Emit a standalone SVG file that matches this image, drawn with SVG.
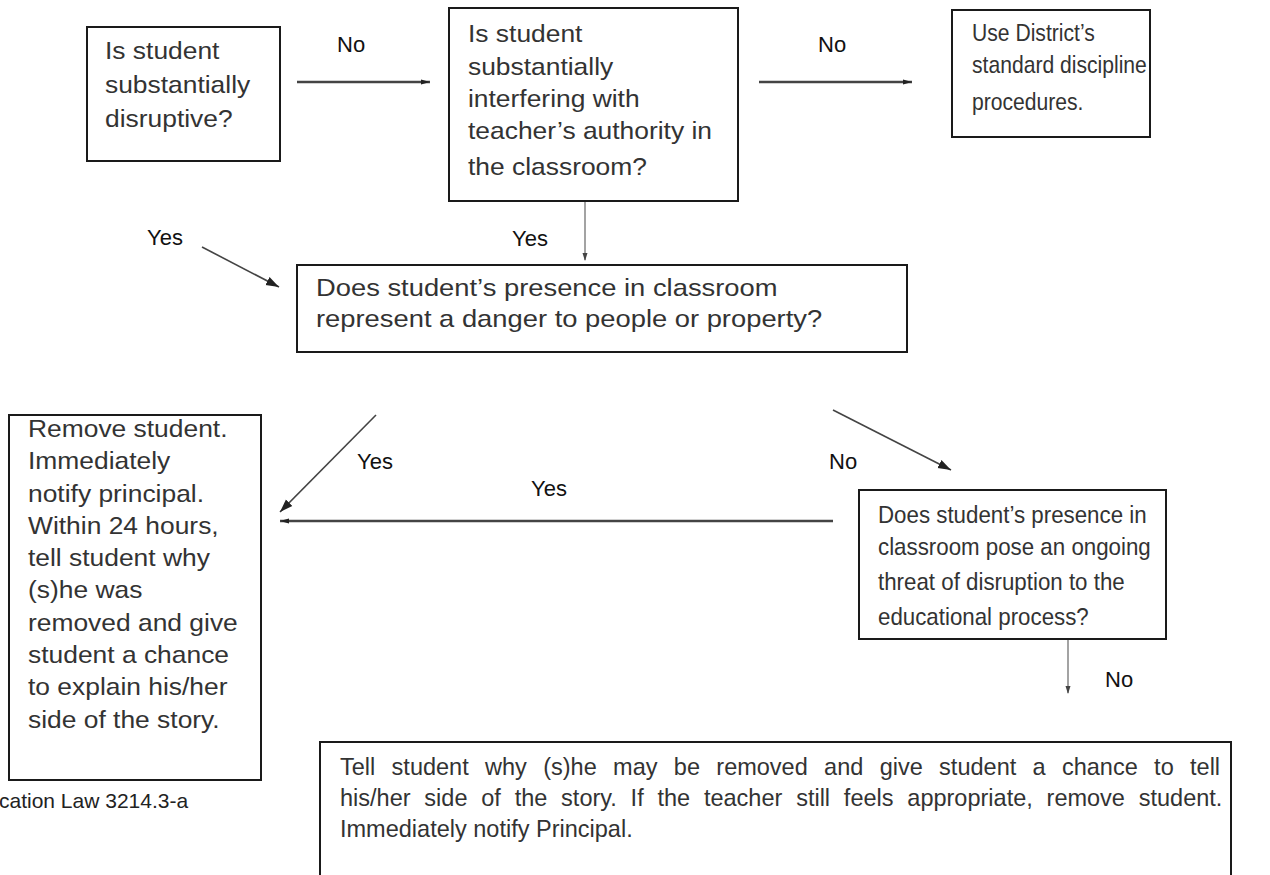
<svg xmlns="http://www.w3.org/2000/svg" width="1270" height="875" viewBox="0 0 1270 875">
  <defs>
    <style>
      .box { fill: #ffffff; stroke: #1a1a1a; stroke-width: 2; }
      .t { font-family: "Liberation Sans", Arial, sans-serif; font-size: 24px; fill: #333333; }
      .lbl { font-family: "Liberation Sans", Arial, sans-serif; font-size: 22px; fill: #111111; }
      .ln { stroke: #444444; stroke-width: 2.5; fill: none; }
      .dg { stroke: #444444; stroke-width: 1.6; fill: none; }
      .vt { stroke: #666666; stroke-width: 1.2; fill: none; }
    </style>
    <marker id="sm" markerUnits="userSpaceOnUse" markerWidth="10" markerHeight="8" refX="9" refY="4" orient="auto">
      <path d="M0,1.5 L9,4 L0,6.5 z" fill="#222222"/>
    </marker>
    <marker id="big" markerUnits="userSpaceOnUse" markerWidth="14" markerHeight="12" refX="13" refY="6" orient="auto">
      <path d="M0,1.5 L13,6 L0,10.5 z" fill="#222222"/>
    </marker>
    <marker id="vs" markerUnits="userSpaceOnUse" markerWidth="8" markerHeight="10" refX="7" refY="4" orient="auto">
      <path d="M0,1.5 L8,4 L0,6.5 z" fill="#444444"/>
    </marker>
  </defs>
  <rect width="1270" height="875" fill="#ffffff"/>

  <g id="connectors">
    <line class="ln" x1="297" y1="82" x2="430" y2="82" marker-end="url(#sm)"/>
    <line class="ln" x1="759" y1="82" x2="912" y2="82" marker-end="url(#sm)"/>
    <line class="vt" x1="585" y1="202" x2="585" y2="260" marker-end="url(#vs)"/>
    <line class="dg" x1="202" y1="247" x2="279" y2="287" marker-end="url(#big)"/>
    <line class="dg" x1="376" y1="415" x2="280" y2="512" marker-end="url(#big)"/>
    <line class="ln" x1="833" y1="521" x2="280" y2="521" marker-end="url(#sm)"/>
    <line class="dg" x1="833" y1="410" x2="951" y2="470" marker-end="url(#big)"/>
    <line class="vt" x1="1068" y1="640" x2="1068" y2="693" marker-end="url(#vs)"/>
    <text class="lbl" x="337" y="52">No</text>
    <text class="lbl" x="818" y="52">No</text>
    <text class="lbl" x="147" y="245">Yes</text>
    <text class="lbl" x="512" y="246">Yes</text>
    <text class="lbl" x="357" y="469">Yes</text>
    <text class="lbl" x="531" y="496">Yes</text>
    <text class="lbl" x="829" y="469">No</text>
    <text class="lbl" x="1105" y="687">No</text>
  </g>

  <g id="node-disruptive">
    <rect class="box" x="87" y="27" width="193" height="134"/>
    <g transform="translate(105 0) scale(1.1 1)">
      <text class="t"><tspan x="0" y="59">Is student</tspan><tspan x="0" y="93">substantially</tspan><tspan x="0" y="127">disruptive?</tspan></text>
    </g>
  </g>

  <g id="node-interfering">
    <rect class="box" x="449" y="8" width="289" height="193"/>
    <g transform="translate(468 0) scale(1.1 1)">
      <text class="t"><tspan x="0" y="42">Is student</tspan><tspan x="0" y="75">substantially</tspan><tspan x="0" y="107">interfering with</tspan><tspan x="0" y="139">teacher’s authority in</tspan><tspan x="0" y="175">the classroom?</tspan></text>
    </g>
  </g>

  <g id="node-standard">
    <rect class="box" x="952" y="10" width="198" height="127"/>
    <g transform="translate(972 0) scale(0.88 1)">
      <text class="t"><tspan x="0" y="41">Use District’s</tspan><tspan x="0" y="73">standard discipline</tspan><tspan x="0" y="110">procedures.</tspan></text>
    </g>
  </g>

  <g id="node-danger">
    <rect class="box" x="297" y="265" width="610" height="87"/>
    <g transform="translate(316 0) scale(1.14 1)">
      <text class="t"><tspan x="0" y="296">Does student’s presence in classroom</tspan><tspan x="0" y="327">represent a danger to people or property?</tspan></text>
    </g>
  </g>

  <g id="node-remove">
    <rect class="box" x="9" y="415" width="252" height="365"/>
    <g transform="translate(28 0) scale(1.1 1)">
      <text class="t"><tspan x="0" y="437">Remove student.</tspan><tspan x="0" y="469">Immediately</tspan><tspan x="0" y="502">notify principal.</tspan><tspan x="0" y="534">Within 24 hours,</tspan><tspan x="0" y="566">tell student why</tspan><tspan x="0" y="598">(s)he was</tspan><tspan x="0" y="631">removed and give</tspan><tspan x="0" y="663">student a chance</tspan><tspan x="0" y="695">to explain his/her</tspan><tspan x="0" y="728">side of the story.</tspan></text>
    </g>
  </g>

  <g id="node-threat">
    <rect class="box" x="859" y="490" width="307" height="149"/>
    <g transform="translate(878 0) scale(0.93 1)">
      <text class="t"><tspan x="0" y="523">Does student’s presence in</tspan><tspan x="0" y="555">classroom pose an ongoing</tspan><tspan x="0" y="590">threat of disruption to the</tspan><tspan x="0" y="625">educational process?</tspan></text>
    </g>
  </g>

  <g id="node-tell">
    <rect class="box" x="320" y="742" width="911" height="160"/>
    <g transform="translate(340 0) scale(0.98 1)">
      <text class="t"><tspan x="0" y="775" style="word-spacing:10px">Tell student why (s)he may be removed and give student a chance to tell</tspan><tspan x="0" y="806" style="word-spacing:7.4px">his/her side of the story. If the teacher still feels appropriate, remove student.</tspan><tspan x="0" y="837">Immediately notify Principal.</tspan></text>
    </g>
  </g>

  <g id="footnote">
    <text class="lbl" x="-1" y="808" style="font-size:21px;fill:#222222">cation Law 3214.3-a</text>
  </g>
</svg>
